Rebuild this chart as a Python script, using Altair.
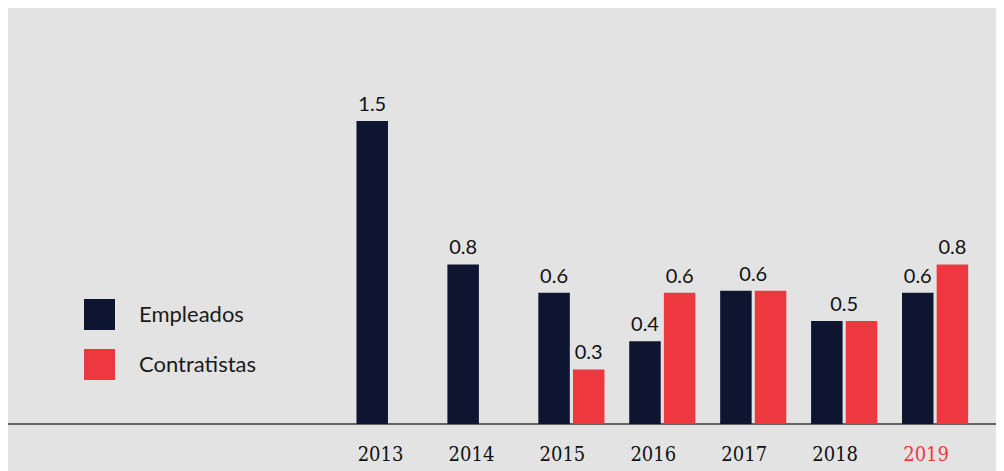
import altair as alt
import pandas as pd

years = ["2013", "2014", "2015", "2016", "2017", "2018", "2019"]
series = ["Empleados", "Contratistas"]
empleados = [1.5, 0.79, 0.65, 0.41, 0.66, 0.51, 0.65]
contratistas = [None, None, 0.27, 0.65, 0.66, 0.51, 0.79]
emp_labels = ["1.5", "0.8", "0.6", "0.4", "", "", "0.6"]
con_labels = ["", "", "0.3", "0.6", "", "", "0.8"]
shared_labels = ["", "", "", "", "0.6", "0.5", ""]
highlight_year = "2019"
colors = ["#0e1530", "#ee3840"]

rows = []
for i, y in enumerate(years):
    if empleados[i] is not None:
        rows.append({"year": y, "idx": i, "series": "Empleados", "value": empleados[i], "label": emp_labels[i]})
    if contratistas[i] is not None:
        rows.append({"year": y, "idx": i, "series": "Contratistas", "value": contratistas[i], "label": con_labels[i]})
df = pd.DataFrame(rows)

shared = []
for i, y in enumerate(years):
    if shared_labels[i]:
        shared.append({"year": y, "idx": i,
                       "value": max(empleados[i], contratistas[i] or 0), "label": shared_labels[i]})
df_shared = pd.DataFrame(shared)

df_years = pd.DataFrame({"year": years, "idx": list(range(len(years))), "v": [0] * len(years)})

xscale = alt.Scale(domain=[-4.1416, 6.6151], nice=False, zero=False)
yscale = alt.Scale(domain=[-0.2327, 2.06], nice=False, zero=False)
OFF = "(datum.series == 'Empleados' ? -0.1905 : 0.1905)"

bars = alt.Chart(df).transform_calculate(pos=f"datum.idx + {OFF}").mark_bar(width=31.5).encode(
    x=alt.X("pos:Q", scale=xscale, axis=None),
    y=alt.Y("value:Q", scale=yscale, axis=None),
    y2=alt.datum(0),
    color=alt.Color("series:N", scale=alt.Scale(domain=series, range=colors),
                    legend=alt.Legend(title=None)),
)

labels = alt.Chart(df).transform_calculate(pos=f"datum.idx + {OFF}").mark_text(
    font="Lato", fontSize=20, color="#111111", baseline="alphabetic", dy=-10
).encode(
    x=alt.X("pos:Q", scale=xscale, axis=None),
    y=alt.Y("value:Q", scale=yscale, axis=None),
    text="label:N",
)

shared_text = alt.Chart(df_shared).mark_text(
    font="Lato", fontSize=20, color="#111111", baseline="alphabetic", dy=-10
).encode(
    x=alt.X("idx:Q", scale=xscale, axis=None),
    y=alt.Y("value:Q", scale=yscale, axis=None),
    text="label:N",
)

year_text = alt.Chart(df_years).mark_text(
    font="DejaVu Serif Condensed", fontSize=20, baseline="middle", dy=31, dx=-9
).encode(
    x=alt.X("idx:Q", scale=xscale, axis=None),
    y=alt.Y("v:Q", scale=yscale, axis=None),
    text="year:N",
    fill=alt.condition(f"datum.year == '{highlight_year}'", alt.value("#ee3840"), alt.value("#111111")),
)

base_rule = alt.Chart(pd.DataFrame({"v": [0]})).mark_rule(color="#3a3a3a", strokeWidth=1.5).encode(
    y=alt.Y("v:Q", scale=yscale, axis=None),
    x=alt.value(0),
    x2=alt.value(988),
)

chart = alt.layer(base_rule, bars, labels, shared_text, year_text).properties(
    width=988, height=463,
    autosize="none",
    padding=0,
    background="#e3e3e3",
).configure_view(stroke=None).configure_legend(
    orient="none", legendX=76, legendY=291,
    symbolType="square", symbolSize=961, symbolStrokeWidth=0, symbolOpacity=1,
    labelFont="Lato", labelFontSize=22, labelColor="#1a1a1a",
    labelOffset=24, rowPadding=19, labelLimit=300,
)

chart.save("out.html", embed_options={"renderer": "svg", "actions": False})
